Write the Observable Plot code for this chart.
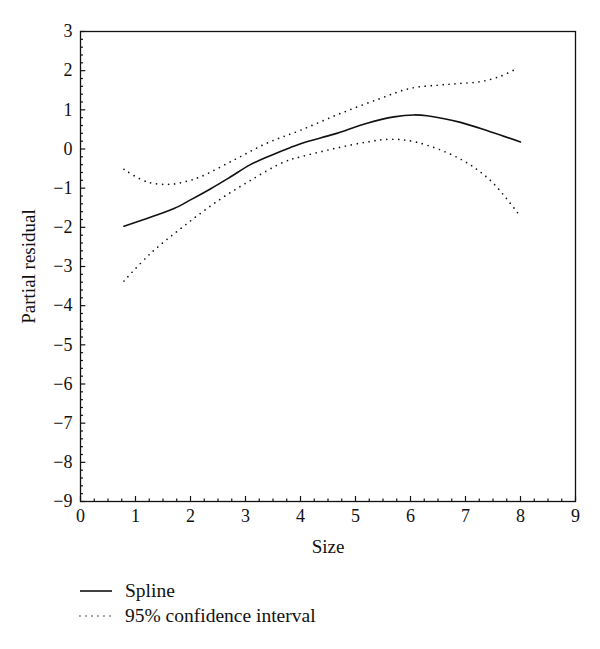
<!DOCTYPE html>
<html><head><meta charset="utf-8">
<script src="https://cdn.jsdelivr.net/npm/d3@7"></script>
<script src="https://cdn.jsdelivr.net/npm/@observablehq/plot@0.6"></script>
<style>
body{margin:0;background:#fff;}
#chart{width:600px;font-family:"Liberation Serif","DejaVu Serif",serif;}
#chart svg{display:block;}
</style></head><body><div id="chart"></div>
<script>
// Spline estimate
const splineSize  = [0.79, 1.27, 1.70, 2.00, 2.36, 2.73, 3.09, 3.45, 3.82, 4.10, 4.61, 5.21, 5.70, 6.06, 6.30, 6.91, 7.45, 8.00];
const splineValue = [-1.97, -1.74, -1.52, -1.30, -1.02, -0.71, -0.40, -0.17, 0.04, 0.18, 0.38, 0.66, 0.82, 0.87, 0.85, 0.68, 0.44, 0.18];
// Upper 95% confidence bound
const upperSize  = [0.79, 1.21, 1.64, 1.94, 2.18, 2.79, 3.39, 4.00, 4.73, 5.45, 6.00, 6.50, 6.85, 7.27, 7.64, 7.94];
const upperValue = [-0.52, -0.84, -0.90, -0.82, -0.71, -0.28, 0.15, 0.48, 0.91, 1.29, 1.55, 1.63, 1.67, 1.72, 1.86, 2.06];
// Lower 95% confidence bound
const lowerSize  = [0.79, 1.27, 1.85, 2.48, 3.09, 3.70, 4.00, 4.61, 5.21, 5.64, 6.12, 6.90, 7.45, 7.96];
const lowerValue = [-3.37, -2.67, -2.00, -1.34, -0.80, -0.33, -0.20, 0.01, 0.18, 0.25, 0.17, -0.25, -0.80, -1.65];
// Tick labels
const xTickLabels = [0, 1, 2, 3, 4, 5, 6, 7, 8, 9];
const yTickLabels = [-9, -8, -7, -6, -5, -4, -3, -2, -1, 0, 1, 2, 3];
const xMinorTicks = d3.range(0, 9.001, 0.25).filter(v => Math.abs(v - Math.round(v)) > 1e-6);
const yMinorTicks = d3.range(-9, 3.001, 0.2).filter(v => Math.abs(v - Math.round(v)) > 1e-6);
// Axis titles and legend
const xTitle = ["Size"];
const yTitle = ["Partial residual"];
const legendLabels = ["Spline", "95% confidence interval"];

const spline = splineSize.map((x, i) => ({x, y: splineValue[i]}));
const upper = upperSize.map((x, i) => ({x, y: upperValue[i]}));
const lower = lowerSize.map((x, i) => ({x, y: lowerValue[i]}));

const ink = "#111";
const font = "'Liberation Serif', 'DejaVu Serif', serif";
const dotted = {x: "x", y: "y", curve: "catmull-rom", stroke: ink, strokeWidth: 1.7, strokeDasharray: "0,6", strokeLinecap: "round"};

const plot = Plot.plot({
  width: 600, height: 560,
  marginLeft: 80, marginRight: 25, marginTop: 31, marginBottom: 59,
  style: {fontFamily: font, fontSize: "18px", color: ink, background: "white", overflow: "visible"},
  x: {domain: [0, 9]},
  y: {domain: [-9, 3]},
  marks: [
    Plot.ruleY(yTickLabels, {y: d => d, x1: 0, x2: 5.3 / 55, stroke: ink, strokeWidth: 1.2}),
    Plot.ruleY(yMinorTicks, {y: d => d, x1: 0, x2: 3 / 55, stroke: ink, strokeWidth: 1.2}),
    Plot.ruleX(xTickLabels, {x: d => d, y1: -9, y2: -9 + 5 / 39.17, stroke: ink, strokeWidth: 1.2}),
    Plot.ruleX(xMinorTicks, {x: d => d, y1: -9, y2: -9 + 2.5 / 39.17, stroke: ink, strokeWidth: 1.2}),
    Plot.frame({stroke: ink, strokeWidth: 1.3}),
    Plot.axisX({ticks: xTickLabels, tickSize: 0, tickPadding: 8, tickFormat: d => String(d), fontSize: 18, label: null}),
    Plot.axisY({ticks: yTickLabels, tickSize: 0, tickPadding: 8, fontSize: 18, label: null}),
    Plot.text(xTitle, {text: d => d, frameAnchor: "bottom", dy: 45, lineAnchor: "middle", fontSize: 19, textAnchor: "middle", fill: ink}),
    Plot.text(yTitle, {text: d => d, frameAnchor: "left", dx: -52, rotate: -90, lineAnchor: "middle", fontSize: 19, textAnchor: "middle", fill: ink}),
    Plot.line(upper, dotted),
    Plot.line(lower, dotted),
    Plot.line(spline, {x: "x", y: "y", curve: "catmull-rom", stroke: ink, strokeWidth: 1.6})
  ]
});
document.getElementById("chart").append(plot);

// Legend below the chart
const leg = d3.select("#chart").append("svg").attr("width", 600).attr("height", 89)
  .style("font-family", font).style("font-size", "19.5px");
const rows = leg.selectAll("g").data(legendLabels).join("g")
  .attr("transform", (d, i) => `translate(0,${31 + i * 25})`);
rows.append("line").attr("x1", 80).attr("x2", 112).attr("y1", 0).attr("y2", 0)
  .attr("stroke", ink).attr("stroke-width", (d, i) => i === 0 ? 1.6 : 1.4)
  .attr("stroke-linecap", (d, i) => i === 0 ? "butt" : "round")
  .attr("stroke-dasharray", (d, i) => i === 0 ? null : "0,6");
rows.append("text").attr("x", 125).attr("y", 6).attr("fill", ink).text(d => d);
</script></body></html>
